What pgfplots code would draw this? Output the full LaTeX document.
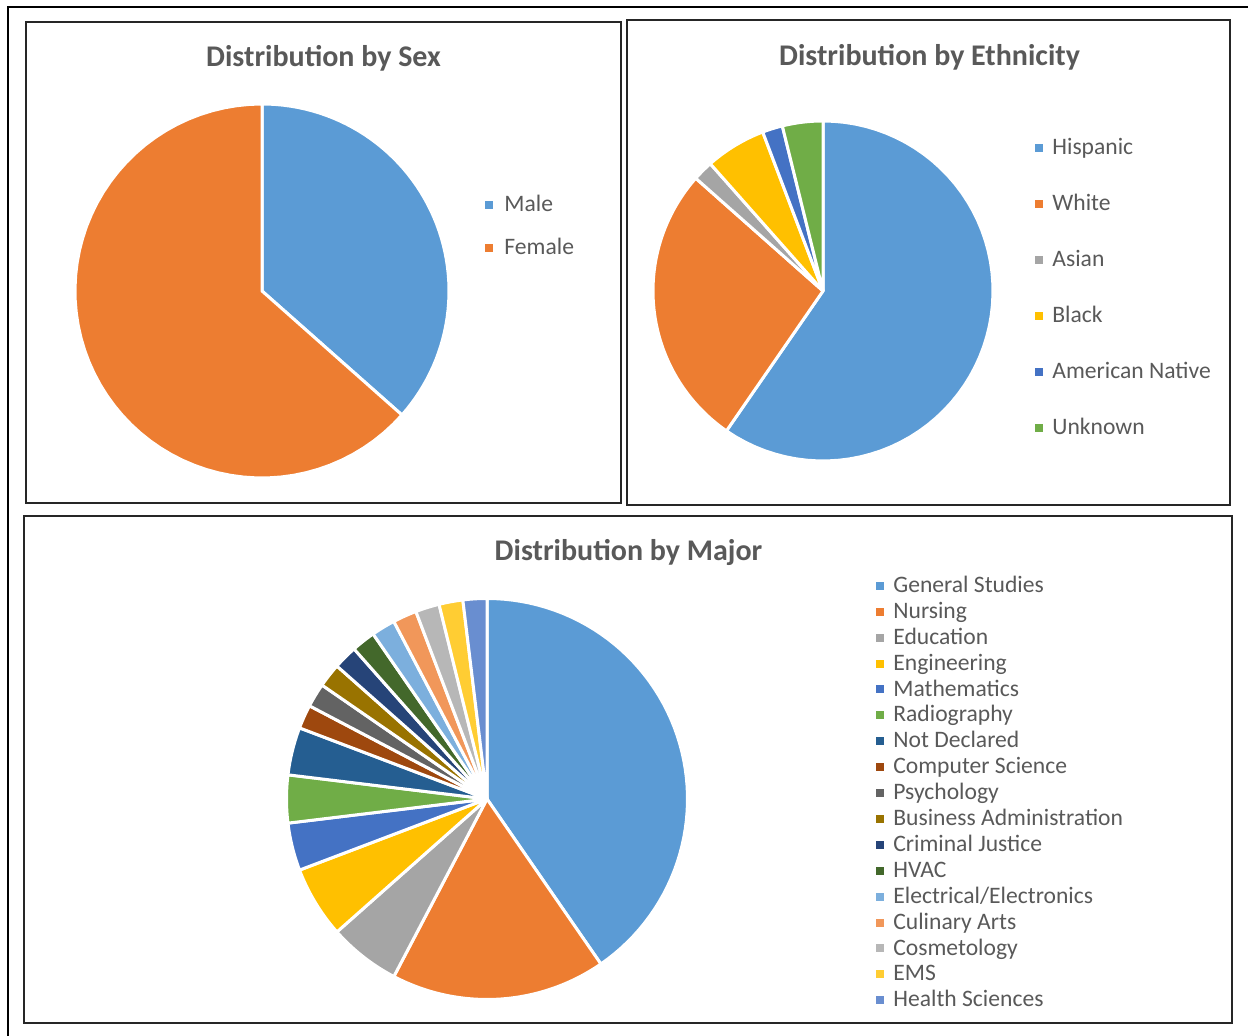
\documentclass[border=0pt]{standalone}
\usepackage{pgfplots}
\usepackage{pgfplotstable}
\pgfplotsset{compat=1.18}
\usepackage{fontspec}
\setmainfont{Carlito}

\definecolor{c1}{HTML}{5B9BD5}
\definecolor{c2}{HTML}{ED7D31}
\definecolor{c3}{HTML}{A5A5A5}
\definecolor{c4}{HTML}{FFC000}
\definecolor{c5}{HTML}{4472C4}
\definecolor{c6}{HTML}{70AD47}
\definecolor{c7}{HTML}{255E91}
\definecolor{c8}{HTML}{9E480E}
\definecolor{c9}{HTML}{636363}
\definecolor{c10}{HTML}{997300}
\definecolor{c11}{HTML}{264478}
\definecolor{c12}{HTML}{43682B}
\definecolor{c13}{HTML}{7CAFDD}
\definecolor{c14}{HTML}{F1975A}
\definecolor{c15}{HTML}{B7B7B7}
\definecolor{c16}{HTML}{FFCD33}
\definecolor{c17}{HTML}{698ED0}
\definecolor{txt}{HTML}{595959}

\pgfplotstableread[col sep=comma]{
name,count,color
Male,19,c1
Female,33,c2
}\sexdata

\pgfplotstableread[col sep=comma]{
name,count,color
Hispanic,31,c1
White,14,c2
Asian,1,c3
Black,3,c4
American Native,1,c5
Unknown,2,c6
}\ethdata

\pgfplotstableread[col sep=comma]{
name,count,color
General Studies,21,c1
Nursing,9,c2
Education,3,c3
Engineering,3,c4
Mathematics,2,c5
Radiography,2,c6
Not Declared,2,c7
Computer Science,1,c8
Psychology,1,c9
Business Administration,1,c10
Criminal Justice,1,c11
HVAC,1,c12
Electrical/Electronics,1,c13
Culinary Arts,1,c14
Cosmetology,1,c15
EMS,1,c16
Health Sciences,1,c17
}\majordata

% slices start at the top and run clockwise, as in the spreadsheet
\newcommand\drawpie[1]{%
  \pgfplotstablegetrowsof{#1}%
  \pgfmathtruncatemacro\lastrow{\pgfplotsretval-1}%
  \def\pietotal{0}%
  \pgfplotsforeachungrouped \i in {0,...,\lastrow}{%
    \pgfplotstablegetelem{\i}{count}\of{#1}%
    \pgfmathsetmacro\pietotal{\pietotal+\pgfplotsretval}%
  }%
  \def\piecum{0}%
  \pgfplotsforeachungrouped \i in {0,...,\lastrow}{%
    \pgfplotstablegetelem{\i}{count}\of{#1}\let\piev\pgfplotsretval
    \pgfplotstablegetelem{\i}{color}\of{#1}\let\piec\pgfplotsretval
    \pgfplotstablegetelem{\i}{name}\of{#1}\let\pien\pgfplotsretval
    \pgfmathsetmacro\piestart{90-360*((\piecum+\piev)/\pietotal)}%
    \pgfmathsetmacro\pieend{90-360*(\piecum/\pietotal)}%
    \pgfmathsetmacro\piecum{\piecum+\piev}%
    \edef\pieplot{\noexpand\addplot[fill=\piec, draw=white, line width=1.5pt,
        line join=round, domain=\piestart:\pieend, samples=60]
        ({cos(x)},{sin(x)}) -- (0,0) -- cycle;
      \noexpand\addlegendentry{\pien}}%
    \pieplot
  }%
}

\pgfplotsset{
  pie/.style={
    hide axis, scale only axis, clip=false,
    xmin=-1, xmax=1, ymin=-1, ymax=1,
    anchor=center,
    legend cell align=left,
    legend image code/.code={\fill[##1,draw=none] (0pt,1.3pt) rectangle (4pt,5.3pt);},
    legend style={draw=none, fill=none, inner sep=0pt, anchor=north west,
      font=\fontsize{11.8}{13}\selectfont, text=txt, column sep=4.5pt,
      nodes={inner sep=0pt, text height=9pt, text depth=4pt, anchor=base west}},
  },
}

\begin{document}
\begin{tikzpicture}
\useasboundingbox (0,0) rectangle (624pt,518pt);

\begin{scope}[x=0.5pt, y=-0.5pt, shift={(0pt,518pt)}]
  \draw[line width=1pt] (8,1036) -- (8,7) -- (1248,7);
  \draw[black!85, line width=0.8pt] (26,22) rectangle (621,503);
  \draw[black!85, line width=0.8pt] (627,20) rectangle (1230,505);
  \draw[black!85, line width=0.8pt] (24,516) rectangle (1232,1023);
  \node[anchor=base, text=txt, font=\fontsize{15}{18}\selectfont\bfseries] at (323.5,67) {Distribution by Sex};
  \node[anchor=base, text=txt, font=\fontsize{15}{18}\selectfont\bfseries] at (929.5,66) {Distribution by Ethnicity};
  \node[anchor=base, text=txt, font=\fontsize{15}{18}\selectfont\bfseries] at (628.5,561) {Distribution by Major};
\end{scope}

\begin{axis}[pie, at={(131pt,372.5pt)}, width=187pt, height=187pt,
    legend style={at={(1.0965,0.762)}, row sep=8.5pt, column sep=5.5pt}]
  \drawpie{\sexdata}
\end{axis}

\begin{axis}[pie, at={(411.5pt,372.5pt)}, width=170pt, height=170pt,
    legend style={at={(1.1235,0.9557)}, row sep=15pt}]
  \drawpie{\ethdata}
\end{axis}

\begin{axis}[pie, at={(243.5pt,118.5pt)}, width=200.5pt, height=200.5pt,
    legend style={at={(1.470,1.061)}, row sep=-0.05pt}]
  \drawpie{\majordata}
\end{axis}
\end{tikzpicture}
\end{document}
